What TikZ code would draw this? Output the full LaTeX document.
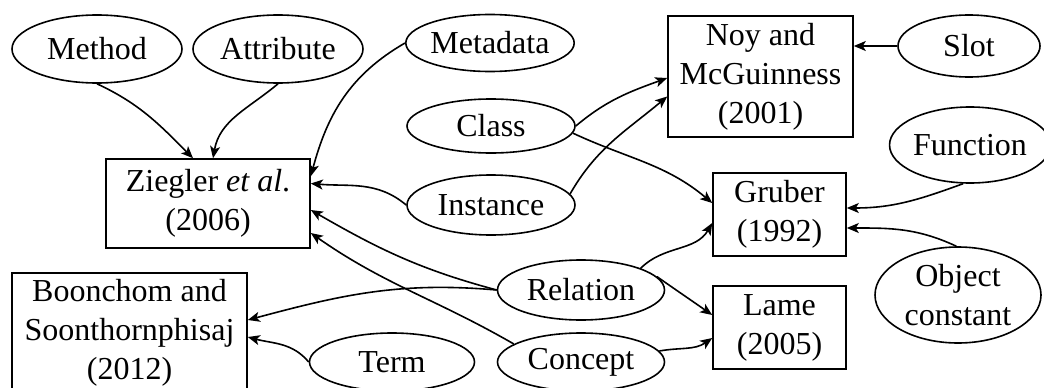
\documentclass[tikz,border=0pt]{standalone}
\usepackage{fontspec}
\setmainfont{Liberation Serif}
\usetikzlibrary{shapes.geometric,arrows.meta}
\begin{document}
\begin{tikzpicture}[x=1pt,y=-1pt,
  every node/.style={font=\fontsize{32}{39}\selectfont, inner sep=0pt},
  topic/.style={ellipse, draw, line width=1.6pt},
  source/.style={rectangle, draw, line width=1.6pt, align=center},
  link/.style={-{Stealth[length=12pt,width=10pt,inset=3pt]}, line width=1.6pt}]
\useasboundingbox (0,0) rectangle (1044,388);

% concepts (ellipses)
\node[topic, minimum width=170pt, minimum height=68pt] (mt) at (97,49) {Method};
\node[topic, minimum width=170pt, minimum height=68pt] (at) at (278,49) {Attribute};
\node[topic, minimum width=167pt, minimum height=57pt] (md) at (490,43) {Metadata};
\node[topic, minimum width=168pt, minimum height=54pt] (cl) at (491,126) {Class};
\node[topic, minimum width=168pt, minimum height=60pt] (in) at (491,205) {Instance};
\node[topic, minimum width=167pt, minimum height=60pt] (rl) at (581,290) {Relation};
\node[topic, minimum width=167pt, minimum height=58pt] (cp) at (581,362) {Concept};
\node[topic, minimum width=165pt, minimum height=58pt] (tm) at (392,362) {Term};
\node[topic, minimum width=142pt, minimum height=62pt] (sl) at (969,46) {Slot};
\node[topic, minimum width=144pt, minimum height=76pt] (fn) at (970,145) {Function};
\node[topic, minimum width=166pt, minimum height=96pt, align=center] (oc) at (958,295) {Object\\constant};

% sources (boxes)
\node[source, minimum width=204pt, minimum height=89pt] (zg) at (208,203.5) {Ziegler \textit{et al}.\\(2006)};
\node[source, minimum width=235pt, minimum height=119pt] (bc) at (129.5,332.5) {Boonchom and\\Soonthornphisaj\\(2012)};
\node[source, minimum width=185pt, minimum height=121pt] (nm) at (760.5,76.5) {Noy and\\McGuinness\\(2001)};
\node[source, minimum width=133pt, minimum height=83pt] (gb) at (779.5,214.5) {Gruber\\(1992)};
\node[source, minimum width=133pt, minimum height=83pt] (lm) at (779.5,327.5) {Lame\\(2005)};

% links into Ziegler et al.
\draw[link] (mt.south) to[out=-25,in=135] ([xshift=-15pt]zg.north);
\draw[link] (at.south) to[out=220,in=80] ([xshift=5pt]zg.north);
\draw[link] (md.west) to[out=210,in=75] ([yshift=-18pt]zg.north east);
\draw[link] (in.west) to[out=140,in=-5] ([yshift=20pt]zg.east);
\draw[link] (rl.west) to[out=165,in=-30] ([yshift=-6.5pt]zg.east);
\draw[link] (cp.165) to[out=150,in=-35] ([yshift=-29.5pt]zg.east);

% links into Boonchom and Soonthornphisaj
\draw[link] (rl.west) to[out=175,in=15] ([yshift=12.5pt]bc.east);
\draw[link] (tm.west) to[out=130,in=-15] ([yshift=-4.5pt]bc.east);

% links into Noy and McGuinness
\draw[link] (cl.east) to[out=40,in=200] ([yshift=-1.5pt]nm.west);
\draw[link] (in.8) to[out=60,in=220] ([yshift=-20pt]nm.west);
\draw[link] (sl.west) -- (sl.west -| nm.east);

% links into Gruber
\draw[link] (cl.-5) to[out=-25,in=140] ([yshift=11.5pt]gb.west);
\draw[link] (rl.20) to[out=45,in=240] ([yshift=-8.5pt]gb.west);
\draw[link] (fn.-100) to[out=200,in=0] ([yshift=6.5pt]gb.east);
\draw[link] (oc.92) to[out=155,in=0] ([yshift=-13.5pt]gb.east);

% links into Lame
\draw[link] (rl.10) to[out=-35,in=145] ([yshift=12.5pt]lm.west);
\draw[link] (cp.8) to[out=10,in=215] ([yshift=-10.5pt]lm.west);
\end{tikzpicture}
\end{document}
